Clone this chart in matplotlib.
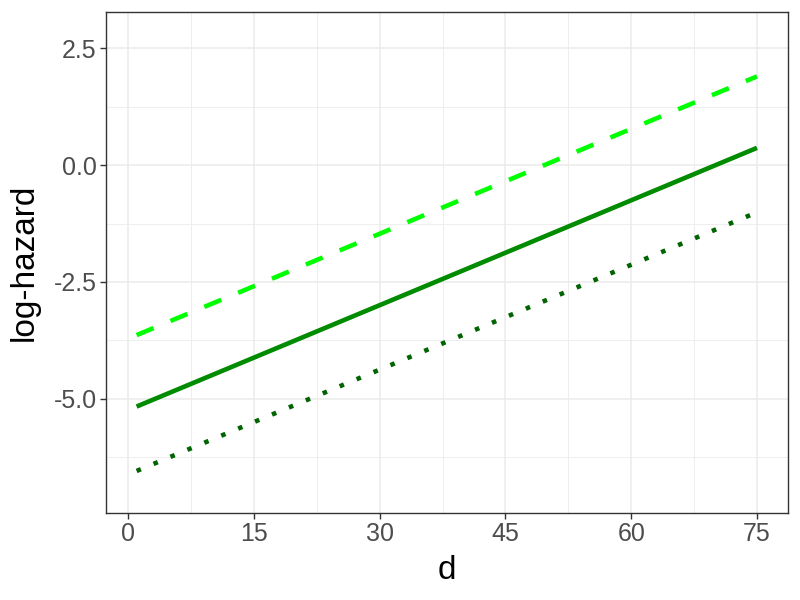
import matplotlib
matplotlib.use("Agg")
import matplotlib.pyplot as plt
from matplotlib.ticker import MultipleLocator, FuncFormatter

plt.rcParams["font.family"] = ["Liberation Sans", "DejaVu Sans"]

# log-hazard vs d, three linear curves
d = [1, 75]
haz_high = [-3.64, 1.90]
haz_mid = [-5.17, 0.37]
haz_low = [-6.55, -1.01]

fig = plt.figure(figsize=(8, 6), dpi=100)
ax = fig.add_axes([0.132, 0.145, 0.853, 0.835])

ax.plot(d, haz_high, color="#00FF00", lw=3.3, dashes=(4.0, 4.0), solid_capstyle="butt", zorder=3)
ax.plot(d, haz_mid, color="#008B00", lw=3.3, solid_capstyle="butt", zorder=3)
ax.plot(d, haz_low, color="#006400", lw=3.3, dashes=(1, 3.0), zorder=3)

ax.set_xlim(-2.7, 78.7)
ax.set_ylim(-7.45, 3.28)

ax.xaxis.set_major_locator(MultipleLocator(15))
ax.xaxis.set_minor_locator(MultipleLocator(7.5))
ax.yaxis.set_major_locator(MultipleLocator(2.5))
ax.yaxis.set_minor_locator(MultipleLocator(1.25))
ax.yaxis.set_major_formatter(FuncFormatter(lambda v, p: f"{v:.1f}".replace("\u2212", "-")))

ax.grid(which="major", color="#EBEBEB", lw=1.1, zorder=0)
ax.grid(which="minor", color="#EBEBEB", lw=0.6, zorder=0)
ax.set_axisbelow(True)

for s in ax.spines.values():
    s.set_color("#333333")
    s.set_linewidth(1.0)

ax.tick_params(which="major", length=4, width=1, color="#333333",
               labelcolor="#4D4D4D", labelsize=18, pad=2.5)
ax.tick_params(which="minor", length=0)

ax.set_xlabel("d", fontsize=24, labelpad=6.5)
ax.set_ylabel("log-hazard", fontsize=24, labelpad=10)

fig.savefig("out.png", dpi=100)
